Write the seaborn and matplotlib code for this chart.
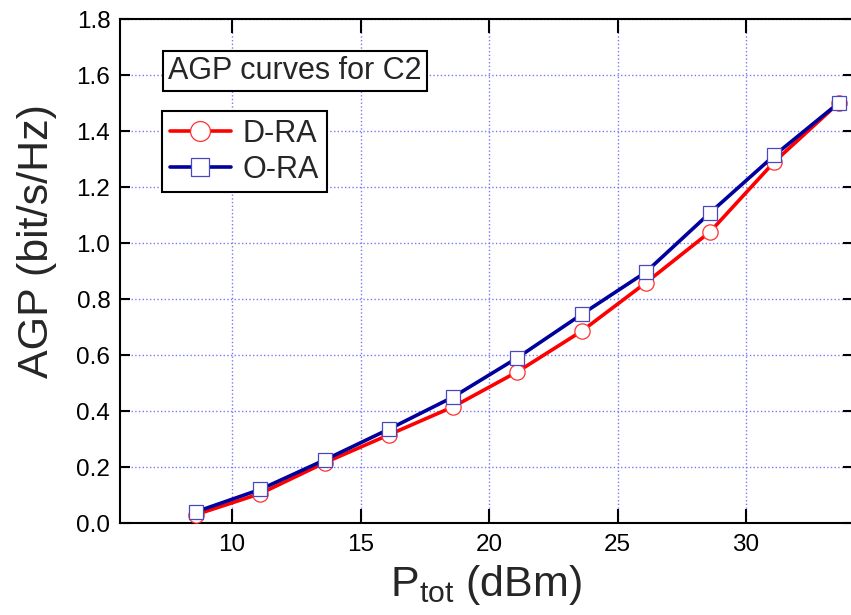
import matplotlib
matplotlib.use("Agg")
import matplotlib.pyplot as plt
import seaborn as sns
import numpy as np

# Data
p_tot = [8.6, 11.1, 13.6, 16.1, 18.6, 21.1, 23.6, 26.1, 28.6, 31.1, 33.6]
d_ra = [0.03, 0.105, 0.215, 0.315, 0.415, 0.54, 0.685, 0.858, 1.04, 1.29, 1.50]
o_ra = [0.04, 0.12, 0.225, 0.335, 0.45, 0.59, 0.745, 0.896, 1.108, 1.313, 1.50]
x_ticks = [10, 15, 20, 25, 30]
y_ticks = [0.0, 0.2, 0.4, 0.6, 0.8, 1.0, 1.2, 1.4, 1.6, 1.8]

sns.set_style("white")
plt.rcParams['font.family'] = ['Liberation Sans', 'DejaVu Sans']
plt.rcParams['mathtext.fontset'] = 'custom'
plt.rcParams['mathtext.rm'] = 'Liberation Sans'
plt.rcParams['mathtext.it'] = 'Liberation Sans'

fig = plt.figure(figsize=(8.51, 6.15), dpi=100)
ax = fig.add_axes([120/851, 1-523/615, 733/851, 504/615])

sns.lineplot(x=p_tot, y=d_ra, ax=ax, color='#FF0000', linewidth=2.6,
             marker='o', markersize=11, markerfacecolor='white',
             markeredgecolor='#FF3030', markeredgewidth=0.9, label='D-RA', zorder=3)
sns.lineplot(x=p_tot, y=o_ra, ax=ax, color='#00009C', linewidth=2.6,
             marker='s', markersize=10, markerfacecolor='white',
             markeredgecolor='#4848C0', markeredgewidth=0.9, label='O-RA', zorder=4)

ax.set_xlim(5.64, 34.16)
ax.set_ylim(0, 1.8)
ax.set_xticks(x_ticks)
ax.set_yticks(y_ticks)
ax.set_yticklabels([f"{v:.1f}" for v in y_ticks])
ax.grid(True, color='#7878F8', linestyle=':', linewidth=1.0)

for s in ax.spines.values():
    s.set_color('black')
    s.set_linewidth(1.5)
    s.set_visible(True)

ax.tick_params(axis='x', direction='in', length=10, width=1.5, pad=8,
               labelsize=17.5, top=True, bottom=True, colors='black')
ax.tick_params(axis='y', direction='in', length=7, width=1.5, pad=7,
               labelsize=17.5, left=True, right=True, colors='black')

ax.set_xlabel(r'$\mathregular{P_{tot}}$ (dBm)', fontsize=31, labelpad=5)
ax.set_ylabel('AGP (bit/s/Hz)', fontsize=31)
ax.yaxis.set_label_coords(-0.086, 0.56)

ax.text((168-120)/733, (523-56)/504, 'AGP curves for C2', transform=ax.transAxes,
        fontsize=22, ha='left', va='top',
        bbox=dict(boxstyle='square,pad=0.17', fc='white', ec='black', lw=1.5), zorder=6)

leg = ax.legend(loc='upper left', bbox_to_anchor=((162-120)/733, (523-111)/504),
                borderaxespad=0, fontsize=22, frameon=True, fancybox=False,
                edgecolor='black', framealpha=1, borderpad=0.25, labelspacing=0.2,
                handlelength=2.0, handletextpad=0.4, markerscale=1.3)
leg.get_frame().set_linewidth(1.5)

fig.savefig('out.png', dpi=100)
